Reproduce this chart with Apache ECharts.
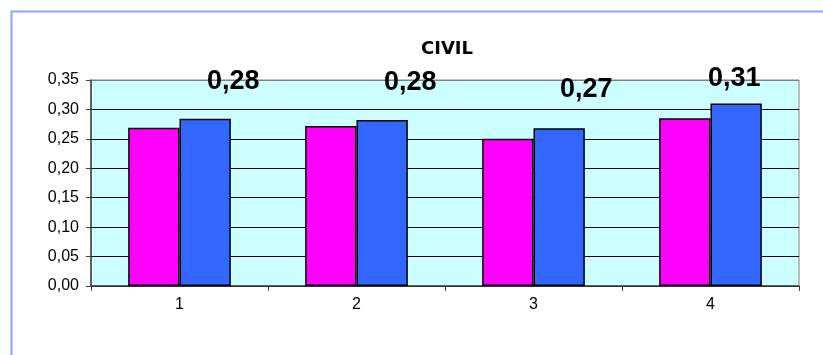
<!DOCTYPE html>
<html lang="es">
<head>
  <meta charset="UTF-8">
  <title>CIVIL</title>
  <script src="https://cdn.jsdelivr.net/npm/echarts@6/dist/echarts.min.js"></script>
  <style>
    html, body { margin: 0; padding: 0; background: #fff; }
    #chart { width: 823px; height: 355px; }
  </style>
</head>
<body>
<div id="chart"></div>
<script>
  // datos
  var categorias = ['1', '2', '3', '4'];
  var serieRosa = [0.269, 0.272, 0.250, 0.285];
  var serieAzul = [0.284, 0.282, 0.268, 0.310];
  var ticksY = [0, 0.05, 0.10, 0.15, 0.20, 0.25, 0.30, 0.35];

  // desplazamiento de las etiquetas (como en el original, movidas a mano)
  var desplaza = [[28, -19], [28, -19], [27, -20], [-2, -6]];

  function coma(v) {
    return v.toFixed(2).replace('.', ',');
  }

  var datosAzul = serieAzul.map(function (v, i) {
    return { value: v, label: { offset: desplaza[i] } };
  });

  var colGrid = ticksY.map(function (t, i) {
    return i == ticksY.length - 1 ? '#808080' : '#000';
  });

  var chart = echarts.init(document.getElementById('chart'));
  var option = {
    animation: false,
    backgroundColor: '#fff',
    textStyle: { fontFamily: 'Liberation Sans, Arial, sans-serif' },
    graphic: [{
      type: 'rect',
      left: 9, top: 9,
      shape: { x: 0, y: 0, width: 1000, height: 1000 },
      style: { fill: null, stroke: '#8CA6FF', lineWidth: 2 },
      silent: true
    }],
    title: {
      text: 'CIVIL',
      left: 442, top: 35,
      textAlign: 'center',
      textStyle: { fontFamily: 'DejaVu Sans', fontWeight: 'bold', fontSize: 18, color: '#000' }
    },
    grid: {
      left: 91, right: 24, top: 80, bottom: 69,
      show: true,
      backgroundColor: '#CCFFFF',
      borderColor: '#808080',
      borderWidth: 1
    },
    xAxis: {
      type: 'category',
      data: categorias,
      axisLine: { lineStyle: { color: '#404040', width: 1.5 } },
      axisTick: { show: true, length: 5, lineStyle: { color: '#404040' } },
      axisLabel: { color: '#000', fontSize: 16, margin: 11 }
    },
    yAxis: {
      type: 'value',
      min: 0, max: 0.35, interval: 0.05,
      axisLine: { show: true, lineStyle: { color: '#404040', width: 1.5 } },
      axisTick: { show: true, length: 5, lineStyle: { color: '#404040' } },
      axisLabel: { color: '#000', fontSize: 16, margin: 12, formatter: function (v) { return coma(v); } },
      splitLine: { show: true, lineStyle: { color: colGrid, width: 1 } }
    },
    series: [
      {
        name: 'serie1',
        type: 'bar',
        data: serieRosa,
        barGap: '0%',
        barCategoryGap: '42%',
        itemStyle: { color: '#FF00FF', borderColor: '#000', borderWidth: 1.5 }
      },
      {
        name: 'serie2',
        type: 'bar',
        data: datosAzul,
        itemStyle: { color: '#3366FF', borderColor: '#000', borderWidth: 1.5 },
        label: {
          show: true,
          position: 'top',
          color: '#000',
          fontWeight: 'bold',
          fontSize: 27,
          fontFamily: 'Liberation Sans',
          formatter: function (p) { return coma(p.value); }
        }
      }
    ]
  };
  chart.setOption(option);
</script>
</body>
</html>
